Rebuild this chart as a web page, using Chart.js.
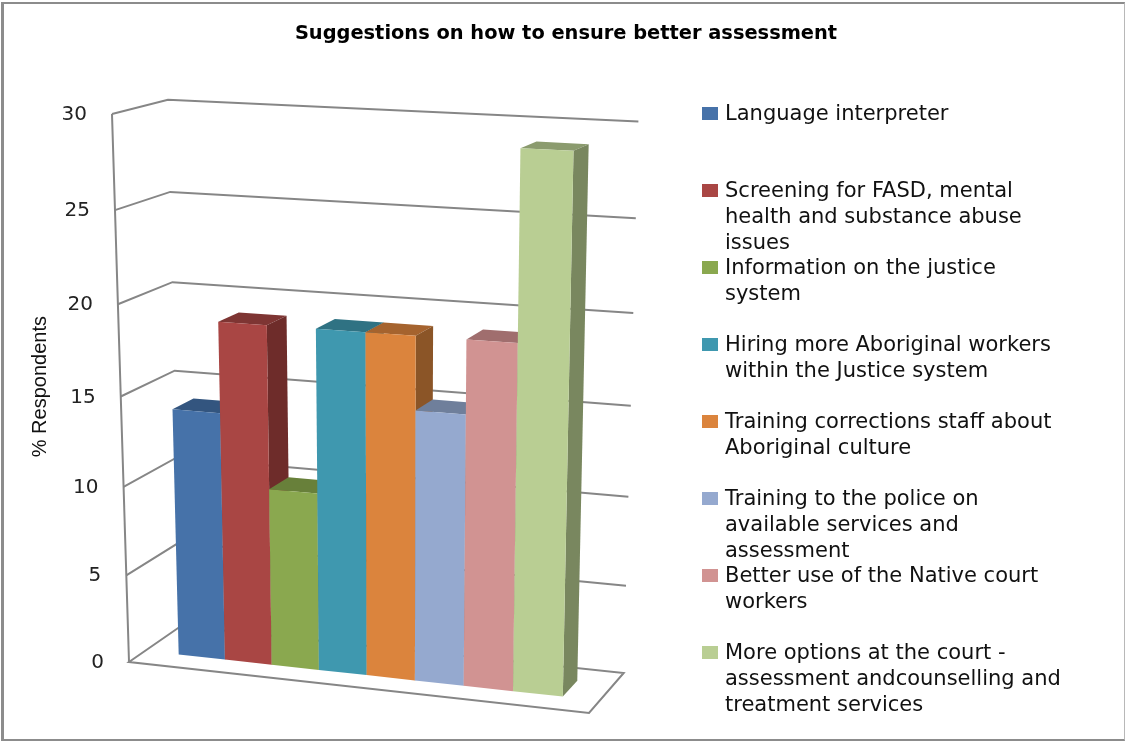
<!DOCTYPE html>
<html>
<head>
<meta charset="utf-8">
<script src="https://cdn.jsdelivr.net/npm/chart.js@4"></script>
<style>
    html, body { margin: 0; padding: 0; background: #fff; }
    #wrap { position: relative; width: 1125px; height: 741px; overflow: hidden; }
    #frame {
        position: absolute; left: 1px; top: 2px; right: 0; bottom: 0;
        border: solid #8c8c8c; border-width: 2px 1px 2px 3px; border-right-color: #b8b8b8;
    }
    #legend { position: absolute; left: 0; top: 0; font: 21px/26px "DejaVu Sans", sans-serif; color: #111; }
    .item { position: absolute; left: 725px; white-space: nowrap; }
    .item i { position: absolute; left: -23px; top: 7px; width: 16px; height: 13px; }
</style>
</head>
<body>
<div id="wrap">
    <div id="frame"></div>
    <canvas id="assessChart" width="1125" height="741" style="position:absolute;left:0;top:0"></canvas>
    <div id="legend"></div>
</div>
<script>
"use strict";

const chartTitle = 'Suggestions on how to ensure better assessment';
const axisTitle = '% Respondents';
const categories = ['Respondents'];
const yTicks = [0, 5, 10, 15, 20, 25, 30];

const seriesNames = [
    ['Language interpreter'],
    ['Screening for FASD, mental', 'health and substance abuse', 'issues'],
    ['Information on the justice', 'system'],
    ['Hiring more Aboriginal workers', 'within the Justice system'],
    ['Training corrections staff about', 'Aboriginal culture'],
    ['Training to the police on', 'available services and', 'assessment'],
    ['Better use of the Native court', 'workers'],
    ['More options at the court -', 'assessment andcounselling and', 'treatment services']
];
const seriesValues = [14, 19, 10, 19, 19, 15, 19, 29];
const frontColors = ['#4672a9', '#a94644', '#8aa84f', '#3f98af', '#db843d', '#95a9cf', '#d19392', '#b9ce93'];
const topColors = ['#33557f', '#7e3533', '#68803a', '#2f7283', '#a5632e', '#6f7f9b', '#a06e6e', '#8b9b6e'];
const sideColors = ['#2f4e75', '#6e2c2a', '#566a30', '#286070', '#8b5527', '#5e6c84', '#886060', '#79875f'];

// walls of the 3D box: screen corners plus perspective terms
const BOX = {
    O: [129, 662], A: [589, 713], B: [112, 114], C: [181, 626],
    g: -0.05, h: -0.06, i: 0.043
};
const BAR_DEPTH = [0.3, 0.7];

function project(u, v, w) {
    const { O, A, B, C, g, h, i } = BOX;
    const d = 1 + g * u + h * v + i * w;
    const at = k => ((A[k] * (1 + g) - O[k]) * u + (B[k] * (1 + h) - O[k]) * v +
        (C[k] * (1 + i) - O[k]) * w + O[k]) / d;
    return [at(0), at(1)];
}

const box3d = {
    id: 'box3d',
    beforeDatasetsDraw(chart) {
        const ctx = chart.ctx;
        const area = chart.chartArea;
        const yScale = chart.scales.y;
        const uOf = x => (x - area.left) / area.width;
        const vOf = y => (area.bottom - y) / area.height;

        const path = (pts) => {
            ctx.beginPath();
            pts.forEach((p, n) => {
                const s = project(p[0], p[1], p[2]);
                if (n === 0) ctx.moveTo(s[0], s[1]); else ctx.lineTo(s[0], s[1]);
            });
        };

        ctx.save();
        ctx.strokeStyle = '#868686';
        ctx.lineWidth = 2;
        ctx.lineJoin = 'miter';

        // floor
        path([[0, 0, 1], [0, 0, 0], [1, 0, 0], [1, 0, 1], [0, 0, 1]]);
        ctx.stroke();
        // front axis
        path([[0, 0, 0], [0, 1, 0]]);
        ctx.stroke();

        // grid and tick labels
        ctx.font = '20px "DejaVu Sans", sans-serif';
        ctx.textAlign = 'right';
        ctx.textBaseline = 'middle';
        yTicks.forEach(t => {
            const v = vOf(yScale.getPixelForValue(t));
            if (t > 0) {
                path([[0, v, 0], [0, v, 1], [1, v, 1]]);
                ctx.stroke();
            }
            const s = project(0, v, 0);
            ctx.fillStyle = '#222';
            ctx.fillText(String(t), s[0] - 25, s[1] + 1);
        });

        // bars, left to right so nearer ones cover the sides
        const [w0, w1] = BAR_DEPTH;
        chart.data.datasets.forEach((ds, n) => {
            const bar = chart.getDatasetMeta(n).data[0];
            const u0 = uOf(bar.x - bar.width / 2);
            const u1 = uOf(bar.x + bar.width / 2);
            const top = vOf(bar.y);
            const bot = vOf(bar.base);

            path([[u0, top, w0], [u1, top, w0], [u1, top, w1], [u0, top, w1]]);
            ctx.fillStyle = topColors[n];
            ctx.fill();

            path([[u1, bot, w0], [u1, top, w0], [u1, top, w1], [u1, bot, w1]]);
            ctx.fillStyle = sideColors[n];
            ctx.fill();

            path([[u0, bot, w0], [u1, bot, w0], [u1, top, w0], [u0, top, w0]]);
            ctx.fillStyle = ds.backgroundColor;
            ctx.fill();
        });
        ctx.restore();
        return false;
    }
};

const chart = new Chart(document.getElementById('assessChart'), {
    type: 'bar',
    data: {
        labels: categories,
        datasets: seriesNames.map((lines, n) => ({
            label: lines.join(' '),
            data: [seriesValues[n]],
            backgroundColor: frontColors[n]
        }))
    },
    plugins: [box3d],
    options: {
        responsive: false,
        animation: false,
        layout: { padding: { left: 8, right: 1, bottom: 81 } },
        datasets: { bar: { barPercentage: 1, categoryPercentage: 0.845 } },
        scales: {
            x: { display: false },
            y: {
                min: 0,
                max: 30,
                afterFit(s) { s.width = 121; },
                grid: { display: false },
                border: { display: false },
                ticks: { display: false, stepSize: 5 },
                title: {
                    display: true,
                    text: axisTitle,
                    color: '#111',
                    padding: { top: 20, bottom: 4 },
                    font: { family: '"Liberation Sans"', size: 20 }
                }
            },
            // empty axis that keeps the legend column free, title stays centred on the page
            spacer: {
                position: 'right',
                afterFit(s) { s.width = 535; },
                grid: { display: false },
                border: { display: false },
                ticks: { display: false }
            }
        },
        plugins: {
            legend: { display: false },
            tooltip: { enabled: false },
            title: {
                display: true,
                text: chartTitle,
                color: '#000',
                font: { family: '"DejaVu Sans"', size: 19.4, weight: 'bold' },
                padding: { top: 22, bottom: 68 }
            }
        }
    }
});

// legend built from the chart's datasets, evenly spaced like the original
const legendBox = document.getElementById('legend');
chart.data.datasets.forEach((ds, n) => {
    const el = document.createElement('div');
    el.className = 'item';
    el.style.top = (100 + 77 * n) + 'px';
    const mark = document.createElement('i');
    mark.style.background = ds.backgroundColor;
    el.appendChild(mark);
    seriesNames[n].forEach(line => {
        const row = document.createElement('div');
        row.textContent = line;
        el.appendChild(row);
    });
    legendBox.appendChild(el);
});
</script>
</body>
</html>
